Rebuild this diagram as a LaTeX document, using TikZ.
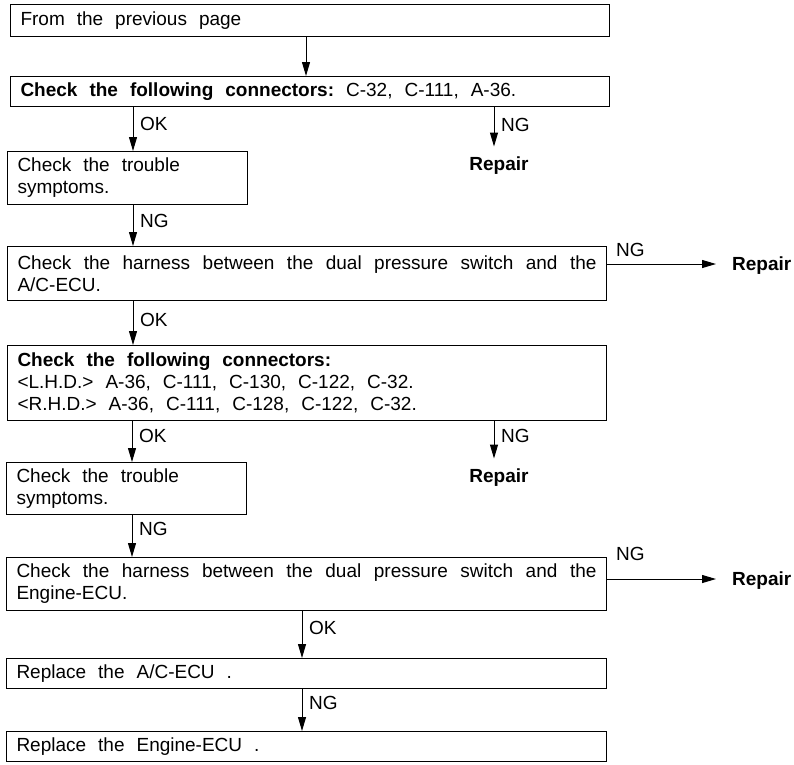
\documentclass[tikz,border=0pt]{standalone}
\usepackage{fontspec}
\setmainfont{Liberation Sans}
\usetikzlibrary{arrows.meta}
\newcommand{\diafont}{\fontsize{19}{22}\selectfont}
\newcommand{\widespace}{\spaceskip=12pt plus 8pt minus 3pt\xspaceskip=12pt plus 8pt minus 3pt\relax}
\begin{document}
\begin{tikzpicture}[x=1pt,y=-1pt,
  every node/.style={font=\diafont},
  box/.style={draw, line width=1pt, anchor=north west, inner xsep=10pt, inner ysep=0pt, align=left,
    execute at begin node=\widespace},
  arr/.style={draw, line width=1pt, -{Triangle[length=14pt,width=8pt]}},
  rep/.style={font=\diafont\bfseries, inner xsep=0pt},
  lbl/.style={anchor=base west, inner sep=0pt}]
\useasboundingbox (0,0) rectangle (794,764);
\hyphenpenalty=10000
% boxes
\node[box, text width=579pt, minimum height=32pt] (b1) at (10,4) {From the previous page};
\node[box, text width=579pt, minimum height=30pt] (b2) at (10,76) {\textbf{Check the following connectors:} C-32, C-111, A-36.};
\node[box, text width=220pt, minimum height=53pt] (b3) at (7,151) {Check the trouble\\symptoms.};
\node[box, text width=579pt, minimum height=54pt, align=justify] (b4) at (7,246) {Check the harness between the dual pressure switch and the\linebreak A/C-ECU.};
\node[box, text width=579pt, minimum height=75pt] (b5) at (7,345) {\textbf{Check the following connectors:}\\<L.H.D.> A-36, C-111, C-130, C-122, C-32.\\<R.H.D.> A-36, C-111, C-128, C-122, C-32.};
\node[box, text width=220pt, minimum height=52pt] (b6) at (6,462) {Check the trouble\\symptoms.};
\node[box, text width=580pt, minimum height=53pt, align=justify] (b7) at (6,557) {Check the harness between the dual pressure switch and the\linebreak Engine-ECU.};
\node[box, text width=580pt, minimum height=30pt] (b8) at (6,658) {Replace the A/C-ECU .};
\node[box, text width=580pt, minimum height=30pt] (b9) at (6,731) {Replace the Engine-ECU .};
% repair nodes
\node[rep, anchor=base, inner ysep=9.5pt] (r1) at (499,170) {Repair};
\node[rep, anchor=base west, inner xsep=0pt] (r2) at (732,270.5) {Repair};
\node[rep, anchor=base, inner ysep=9.5pt] (r3) at (499,482) {Repair};
\node[rep, anchor=base west, inner xsep=0pt] (r4) at (732,585.5) {Repair};
% x / y positions
\coordinate (x1) at (306,0);
\coordinate (xl) at (133,0);
\coordinate (xm) at (132,0);
\coordinate (xr) at (302,0);
\coordinate (xn) at (494,0);
\coordinate (y4) at (0,264);
\coordinate (y7) at (0,579);
\coordinate (e4) at (716,0);
% arrows
\draw[arr] (b1.south -| x1) -- (b2.north -| x1);
\draw[arr] (b2.south -| xl) -- (b3.north -| xl);
\node[lbl] (l1) at (140,130) {OK};
\draw[arr] (b2.south -| xn) -- (r1.north -| xn);
\node[lbl] (l2) at (501,131) {NG};
\draw[arr] (b3.south -| xl) -- (b4.north -| xl);
\node[lbl] (l3) at (140,227) {NG};
\draw[arr] (b4.east |- y4) -- (e4 |- y4);
\node[lbl] (l4) at (616,256) {NG};
\draw[arr] (b4.south -| xl) -- (b5.north -| xl);
\node[lbl] (l5) at (140,326) {OK};
\draw[arr] (b5.south -| xm) -- (b6.north -| xm);
\node[lbl] (l6) at (139,442) {OK};
\draw[arr] (b5.south -| xn) -- (r3.north -| xn);
\node[lbl] (l7) at (501,442) {NG};
\draw[arr] (b6.south -| xm) -- (b7.north -| xm);
\node[lbl] (l8) at (139,535) {NG};
\draw[arr] (b7.east |- y7) -- (e4 |- y7);
\node[lbl] (l9) at (616,560) {NG};
\draw[arr] (b7.south -| xr) -- (b8.north -| xr);
\node[lbl] (l10) at (309,634) {OK};
\draw[arr] (b8.south -| xr) -- (b9.north -| xr);
\node[lbl] (l11) at (309,709) {NG};
\end{tikzpicture}
\end{document}
